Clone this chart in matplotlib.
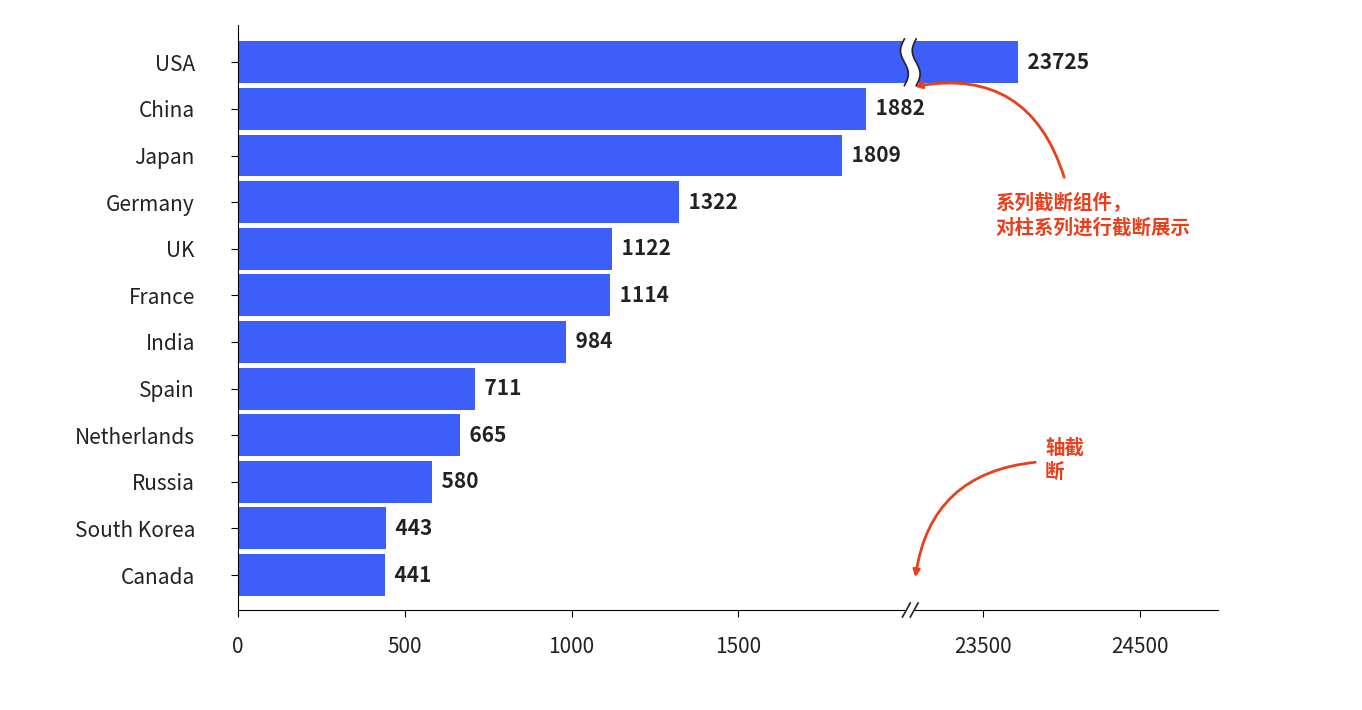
import numpy as np
import matplotlib.pyplot as plt
from matplotlib.patches import Polygon

plt.rcParams['font.family'] = ['Noto Sans CJK SC', 'DejaVu Sans']

countries = ["USA", "China", "Japan", "Germany", "UK", "France", "India",
             "Spain", "Netherlands", "Russia", "South Korea", "Canada"]
gdp = [23725, 1882, 1809, 1322, 1122, 1114, 984, 711, 665, 580, 443, 441]
tick_vals = [0, 500, 1000, 1500, 23500, 24500]

# broken axis: [0, 2015] then [23035, 25000] squeezed
B1, B2 = 2015.0, 23035.0
K = 0.157 / 0.3345


def fwd(x):
    x = np.asarray(x, dtype=float)
    return np.where(x <= B1, x, B1 + (np.maximum(x, B2) - B2) * K)


def inv(y):
    y = np.asarray(y, dtype=float)
    return np.where(y <= B1, y, B2 + (y - B1) / K)


blue = "#3D5EF9"
red = "#E8401C"

fig = plt.figure(figsize=(13.62, 7.1), dpi=100)
ax = fig.add_axes([238 / 1362, 100 / 710, 980 / 1362, 585 / 710])
ax.set_xscale('function', functions=(fwd, inv))
ypos = np.arange(len(countries))
ax.barh(ypos, gdp, height=0.9, color=blue)
ax.set_xlim(0, 25000)
ax.set_ylim(len(countries) - 1 + 0.75, -0.8)
ax.set_yticks(ypos, countries, fontsize=15, color="#222222")
ax.set_xticks(tick_vals, [str(v) for v in tick_vals], fontsize=15, color="#222222")
ax.tick_params(axis='y', length=5, pad=26)
ax.tick_params(axis='x', length=5, pad=14)
for s in ["top", "right"]:
    ax.spines[s].set_visible(False)

for y, v in zip(ypos, gdp):
    ax.text(v, y, f"  {v}", va='center', ha='left', fontsize=15,
            fontweight='bold', color="#222222")

# break gap in USA bar with wavy edges
xb = fwd(B1)
frac = xb / fwd(25000)
yy = np.linspace(-0.5, 0.5, 30)
wave = 0.004 * np.sin(yy * 2 * np.pi)
tr = ax.get_yaxis_transform()
left = frac - 0.006 + wave
right = frac + 0.006 + wave
poly = np.vstack([np.column_stack([left, yy]), np.column_stack([right[::-1], yy[::-1]])])
ax.add_patch(Polygon(poly, closed=True, transform=tr, facecolor='white', edgecolor='none', zorder=3))
ax.plot(left, yy, transform=tr, color='#222222', lw=1.2, zorder=4)
ax.plot(right, yy, transform=tr, color='#222222', lw=1.2, zorder=4)

# break on x axis
ax.add_patch(plt.Rectangle((frac - 0.005, -0.01), 0.01, 0.02, transform=ax.transAxes,
                           facecolor='white', edgecolor='none', clip_on=False, zorder=5))
for dx in (-0.004, 0.004):
    ax.plot([frac + dx - 0.004, frac + dx + 0.004], [-0.012, 0.012], transform=ax.transAxes,
            color='#222222', lw=1.2, clip_on=False, zorder=6)

fig.text(995 / 1362, 1 - 215 / 710, "系列截断组件，\n对柱系列进行截断展示", color=red,
         fontsize=14, fontweight='bold', va='center', linespacing=1.3)
fig.text(1045 / 1362, 1 - 460 / 710, "轴截\n断", color=red,
         fontsize=14, fontweight='bold', va='center', linespacing=1.3)
ax.annotate("", xy=(912, 710 - 87), xycoords='figure pixels',
            xytext=(1065, 710 - 180), textcoords='figure pixels',
            arrowprops=dict(arrowstyle='-|>', color=red, lw=2,
                            connectionstyle='arc3,rad=0.45'))
ax.annotate("", xy=(915, 710 - 580), xycoords='figure pixels',
            xytext=(1038, 710 - 462), textcoords='figure pixels',
            arrowprops=dict(arrowstyle='-|>', color=red, lw=2,
                            connectionstyle='arc3,rad=0.4'))

fig.savefig("out.png", dpi=100)
